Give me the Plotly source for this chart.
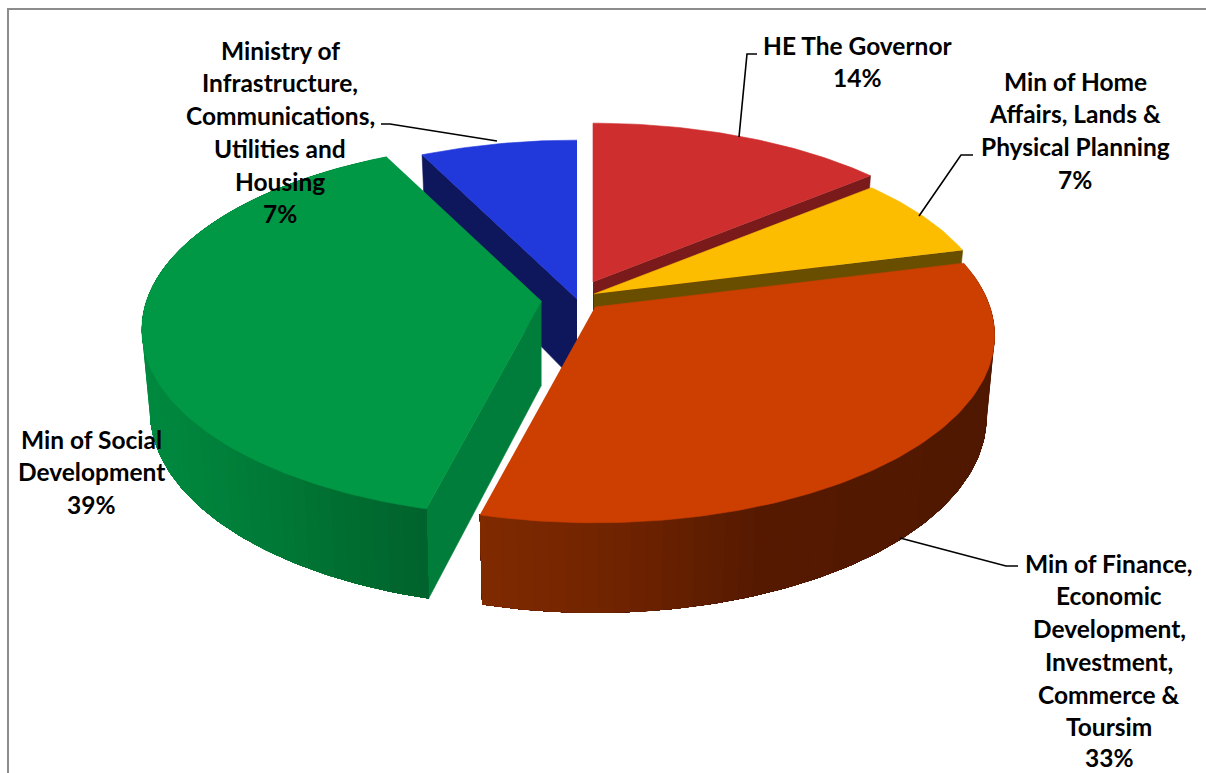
import math
import plotly.graph_objects as go

categories = ["HE The Governor", "Min of Home Affairs, Lands & Physical Planning",
              "Min of Finance, Economic Development, Investment, Commerce & Toursim",
              "Min of Social Development",
              "Ministry of Infrastructure, Communications, Utilities and Housing"]
values = [14, 7, 33, 38.65, 7.35]
label_lines = [["HE The Governor"],
               ["Min of Home", "Affairs, Lands &", "Physical Planning"],
               ["Min of Finance,", "Economic", "Development,", "Investment,", "Commerce &", "Toursim"],
               ["Min of Social", "Development"],
               ["Ministry of", "Infrastructure,", "Communications,", "Utilities and", "Housing"]]

top_colors = ["#CF2E2E", "#FCBC00", "#CC3F00", "#009845", "#2138DB"]
side_colors = ["#7B1A1A", "#6A4E00", "#7F2A00", "#007D3A", "#0E175C"]
apex = [(593, 282), (594, 294), (595, 307), (541.5, 301), (577, 299)]
label_x = [857, 1075, 1109, 91, 280]
label_y = [45, 81, 563, 439, 50]
LINE_H = 32.75
draw_order = [4, 0, 1, 3, 2]

R, K, P, DEPTH, SHRINK = 395, 183, 0.152, 80, 0.98


def project(i, deg, bottom=False):
    u, v = math.sin(math.radians(deg)), math.cos(math.radians(deg))
    s = 1 / (1 + P * v)
    x, y = R * u * s, -K * v * s
    if bottom:
        return apex[i][0] + x * SHRINK, apex[i][1] + y * SHRINK + DEPTH * s
    return apex[i][0] + x, apex[i][1] + y


def arc(i, a0, a1, bottom=False):
    n = max(2, int(abs(a1 - a0)) + 1)
    return [project(i, a0 + (a1 - a0) * k / n, bottom=bottom) for k in range(n + 1)]


def poly(fig, pts, color, width=0.6):
    fig.add_trace(go.Scatter(x=[p[0] for p in pts], y=[p[1] for p in pts], mode="lines",
                             fill="toself", fillcolor=color,
                             line=dict(color=color, width=width),
                             hoverinfo="skip", showlegend=False))


def lerp(stops, t):
    for (t0, c0), (t1, c1) in zip(stops, stops[1:]):
        if t <= t1:
            f = (t - t0) / (t1 - t0) if t1 > t0 else 0
            return "rgb(%d,%d,%d)" % tuple(c0[j] + (c1[j] - c0[j]) * f for j in range(3))
    return "rgb(%d,%d,%d)" % stops[-1][1]


orange_grad = [(480, (128, 42, 0)), (620, (112, 36, 0)), (760, (86, 26, 0)), (1000, (80, 24, 0))]
green_grad = [(140, (0, 138, 64)), (230, (0, 128, 58)), (330, (0, 112, 50)), (430, (0, 98, 44))]
grads = {2: orange_grad, 3: green_grad}

fig = go.Figure()
cum = [0]
for v in values:
    cum.append(cum[-1] + v)
total = cum[-1]

for i in draw_order:
    a0, a1 = 360 * cum[i] / total, 360 * cum[i + 1] / total
    ax, ay = apex[i]
    # radial side wall facing the viewer
    if i in (0, 1):
        poly(fig, [(ax, ay), project(i, a1), project(i, a1, bottom=True), (ax, ay + DEPTH)], side_colors[i])
    if i in (3, 4):
        poly(fig, [(ax, ay), project(i, a0), project(i, a0, bottom=True), (ax, ay + 84)], side_colors[i])
    # outer curved wall: stepped shading, painted far-to-near with overlap so no seams show
    if i in grads:
        a = a1 if i == 3 else a0
        step = -2 if i == 3 else 2
        stop = a0 if i == 3 else a1
        while (a > stop) if i == 3 else (a < stop):
            xm = project(i, a + step / 2)[0]
            poly(fig, arc(i, a, stop) + arc(i, stop, a, bottom=True), lerp(grads[i], xm), width=0)
            a += step
    # top face
    poly(fig, [(ax, ay)] + arc(i, a0, a1), top_colors[i])

leaders = [[(739, 137), (747, 54), (757, 54)],
           [(919, 216), (961, 155), (973, 155)],
           [(900, 538), (1006, 566), (1018, 566)],
           [(381, 124), (390, 124), (497, 141)]]
for pts in leaders:
    fig.add_trace(go.Scatter(x=[p[0] for p in pts], y=[p[1] for p in pts], mode="lines",
                             line=dict(color="black", width=1.6), hoverinfo="skip", showlegend=False))

annotations = []
for i, lines in enumerate(label_lines):
    rows = lines + ["%d%%" % round(values[i])]
    for r, text in enumerate(rows):
        annotations.append(dict(x=label_x[i], y=min(label_y[i] + r * LINE_H, 757.5), text=text, showarrow=False,
                                xref="x", yref="y", xanchor="center", yanchor="middle",
                                font=dict(family="Lato", size=24.5, color="black", weight="bold")))

shapes = [dict(type="line", x0=8, x1=8, y0=8, y1=773, line=dict(color="#8C8C8C", width=2)),
          dict(type="line", x0=7, x1=1206, y0=9, y1=9, line=dict(color="#8C8C8C", width=2))]

fig.update_layout(width=1206, height=773, margin=dict(l=0, r=0, t=0, b=0),
                  paper_bgcolor="white", plot_bgcolor="white", showlegend=False,
                  xaxis=dict(range=[0, 1206], visible=False, fixedrange=True),
                  yaxis=dict(range=[773, 0], visible=False, fixedrange=True),
                  annotations=annotations, shapes=shapes)
fig.write_html("out.html", config={"displayModeBar": False},
               post_script="document.body.style.margin='0';document.documentElement.style.overflow='hidden';")
